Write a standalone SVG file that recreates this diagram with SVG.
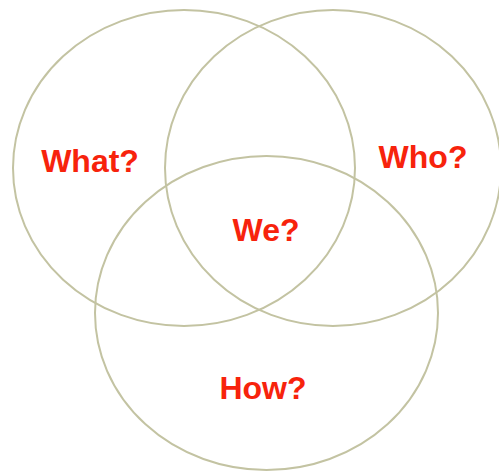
<svg xmlns="http://www.w3.org/2000/svg" width="499" height="471" viewBox="0 0 499 471">
<style>
.c{fill:none;stroke:#c3c3a2;stroke-width:2}
.t{font-family:"Liberation Sans",Arial,sans-serif;font-weight:bold;font-size:32px;fill:#f7230c;text-anchor:middle}
</style>
<rect width="499" height="471" fill="#ffffff"/>
<g id="what"><ellipse class="c" cx="184" cy="168" rx="171" ry="158"/><text class="t" x="90" y="172">What?</text></g>
<g id="who"><ellipse class="c" cx="333" cy="168" rx="168" ry="158"/><text class="t" x="423" y="168">Who?</text></g>
<g id="how"><ellipse class="c" cx="266.5" cy="313" rx="171.5" ry="157"/><text class="t" x="263" y="399">How?</text></g>
<g id="we"><text class="t" x="266" y="241">We?</text></g>
</svg>
